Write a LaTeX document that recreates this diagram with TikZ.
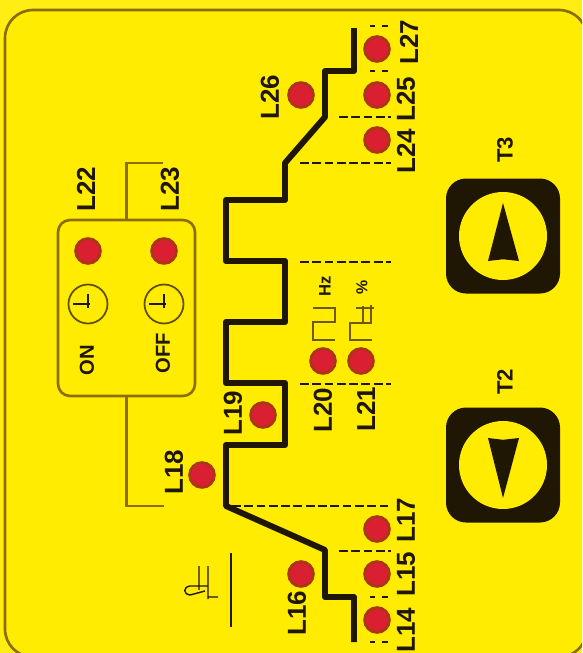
\documentclass[tikz,border=0pt]{standalone}
\usepackage{fontspec}
\setmainfont{Liberation Sans}
\definecolor{panel}{HTML}{FFEC00}
\definecolor{rim}{HTML}{8C6E00}
\definecolor{ink}{HTML}{201604}
\definecolor{ledred}{HTML}{DA1F33}
\definecolor{ledrim}{HTML}{A8380F}
\tikzset{
  led/.style={circle,draw=ledrim,fill=ledred,line width=1.5pt,minimum size=0.5cm,inner sep=0},
  tag/.style={rotate=90,text=ink,font=\fontsize{14.8}{16}\selectfont\bfseries,inner sep=0},
  small tag/.style={tag,font=\fontsize{11.5}{13}\selectfont\bfseries},
  wave/.style={ink,line width=3.4pt,line join=round},
  marker/.style={ink,line width=1.2pt,dash pattern=on 5pt off 2pt},
  sparse marker/.style={ink,line width=1pt,dash pattern=on 3pt off 4pt},
  rimline/.style={rim,line width=1.5pt},
  pulse/.style={rim!80!black,line width=1pt},
  knob/.style={fill=ink,rounded corners=0.4cm},
}
\begin{document}
\begin{tikzpicture}[x=0.02cm,y=-0.02cm]
\useasboundingbox(0,0)rectangle(582,653);
\fill[panel!92!white](0,0)rectangle(582,653);
\clip(0,0)rectangle(582,653);
\draw[rimline,fill=panel,rounded corners=0.56cm](5,10)rectangle(587,657);
% stepped line
\draw[wave](354,28)--(354,71)--(325,71)--(325,117)--(285,163)--(285,200)--(226,200)--(226,261)--(285,261)--(285,322)--(226,322)--(226,383)--(285,383)--(285,445)--(226,445)--(226,506)--(325,550)--(325,597)--(354,597)--(354,642);
\foreach\x/\y in{300/163,339/117,300/262,300/384,232/506,339/551}{\draw[marker](\x,\y)--(391,\y);}
\foreach\y in{26,71,597,642}{\draw[sparse marker](370,\y)--(391,\y);}
% leds
\foreach\n/\x/\y in{14/377/620,15/377/574,16/301/574,17/377/529,18/202/475,19/263/415,20/323/361,21/361/361,22/88/251,23/164/251,24/377/140,25/377/95,26/301/95,27/377/49}{\node[led](led\n)at(\x,\y){};}
\foreach\n/\x/\y in{14/406/630,15/406/574,16/297/613,17/406/520,18/174/472,19/233/413,20/323/410,21/366/409,22/86/189,23/170/189,24/406/151,25/406/99,26/270/97,27/409/42}{\node[tag](tag\n)at(\x,\y){L\n};}
% timer box
\node[draw=rim,line width=1.5pt,rounded corners=0.24cm,minimum width=2.74cm,minimum height=3.52cm,inner sep=0](timerbox)at(126.5,308){};
\coordinate(timerup)at(163,163);\coordinate(timerdown)at(164,506);
\draw[rimline](timerbox.north)|-(timerup);
\draw[rimline](timerbox.south)|-(timerdown);
\foreach\x in{88,164}{
\draw[rim!70!black,line width=1pt](\x,304)circle(19.5);
\draw[ink,line width=0.8pt](\x-15,304)--(\x+2,304)(\x,294)--(\x,308);
}
\node[small tag](ontag)at(87,360){ON};
\node[small tag](offtag)at(163,353){OFF};
% signal shapes
\draw[pulse](313,308)--(335,308)--(335,322)--(313,322)--(313,340)--(335,340);
\draw[pulse](356,308)--(374,308)(371,305)--(371,323)--(350,323)--(350,340)--(372,340)(363,306)--(363,323);
\node[tag,font=\fontsize{9.5}{11}\selectfont\bfseries](hztag)at(325,286){Hz};
\node[tag,font=\fontsize{9}{11}\selectfont\bfseries](pctag)at(362,287){\%};
% torch mark
\draw[ink,line width=1.6pt](231,553)--(231,627);
\draw[ink,line width=0.8pt](199,566)--(199,590)(208,566)--(208,599)(207,586)--(190,586)..controls(183,587)and(183,594)..(190,595)--(205,591)(208,597)--(218,597);
% buttons
\foreach\n/\y/\t/\b/\l/\s in{3/236/203/261/150/T3,2/465/498/438/382/T2}{
\fill[knob](446,\y-57.5)rectangle(560,\y+57.5);
\fill[panel](503,\y)circle(44);
\fill[ink](503,\t)--(519,\b)--(503,\b+0.03*\t-0.03*\b)--(488,\b)--cycle;
\node[tag,font=\fontsize{12.6}{14}\selectfont\bfseries](tagT\n)at(505,\l){\s};
}
\end{tikzpicture}
\end{document}
